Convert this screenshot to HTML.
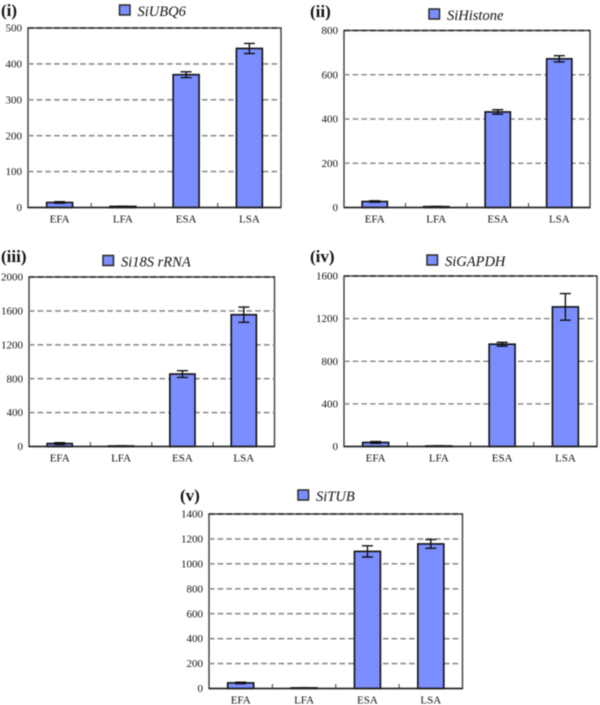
<!DOCTYPE html>
<html>
<head>
<meta charset="utf-8">
<title>Expression of reference genes</title>
<style>
html,body{margin:0;padding:0;background:#fff;width:600px;height:705px;overflow:hidden}
svg{display:block;filter:blur(0.4px)}
text{font-family:"Liberation Serif",serif;fill:#111}
</style>
</head>
<body>
<svg id="figure" width="600" height="705" viewBox="0 0 600 705" xmlns="http://www.w3.org/2000/svg"></svg>
<script>
const categories = ["EFA", "LFA", "ESA", "LSA"];

const ubq6Values = [14, 3, 370, 443];
const ubq6Errors = [2, 0.5, 8, 14];
const ubq6Ticks = [0, 100, 200, 300, 400, 500];

const histoneValues = [27, 4, 432, 672];
const histoneErrors = [3, 0.5, 10, 14];
const histoneTicks = [0, 200, 400, 600, 800];

const rrnaValues = [35, 6, 855, 1555];
const rrnaErrors = [10, 2, 40, 90];
const rrnaTicks = [0, 400, 800, 1200, 1600, 2000];

const gapdhValues = [38, 5, 960, 1310];
const gapdhErrors = [8, 1, 18, 125];
const gapdhTicks = [0, 400, 800, 1200, 1600];

const tubValues = [45, 5, 1100, 1160];
const tubErrors = [6, 1, 45, 35];
const tubTicks = [0, 200, 400, 600, 800, 1000, 1200, 1400];

const NS = "http://www.w3.org/2000/svg";
const figure = document.getElementById("figure");

function make(parent, tag, attrs, content) {
  const el = document.createElementNS(NS, tag);
  for (const k in attrs) el.setAttribute(k, attrs[k]);
  if (content !== undefined) el.textContent = content;
  parent.appendChild(el);
  return el;
}

function drawPanel(p) {
  const maxTick = Math.max.apply(null, p.ticks);
  const plotW = p.right - p.left;
  const yScale = function (v) { return p.bottom - (v / maxTick) * (p.bottom - p.top); };
  const step = plotW / p.values.length;
  const xScale = function (i) { return p.left + step * (i + 0.5); };
  const barW = step * 0.41;

  const g = make(figure, "g", {});
  
  

  const label = make(g, "text", { x: p.labelX, y: p.labelY, "font-size": 17, "font-weight": "bold" }, p.label);
  
  

  const swatch = make(g, "rect", { x: p.legendX, y: p.legendY, width: 10.5, height: 10, fill: "#7b8eff", stroke: "#2a2a2a", "stroke-width": 1.5 });
  
  

  const legendText = make(g, "text", { x: p.legendX + 18, y: p.legendY + 11, "font-size": 14.5, "font-style": "italic" }, p.title);
  
  

  const box = make(g, "rect", { x: p.left, y: p.top, width: plotW, height: p.bottom - p.top, fill: "#fff", stroke: "#3a3a3a", "stroke-width": 1.4 });
  
  

  p.ticks.forEach(function (t) {
    const y = yScale(t);
    if (t > 0) {
      const grid = make(g, "line", { x1: p.left, x2: p.right, y1: y, y2: y, stroke: t === maxTick ? "#222" : "#8c8c8c", "stroke-width": 1.6, "stroke-dasharray": "5.5 3.2" });
      
      
    }
    const tick = make(g, "text", { x: p.left - 6, y: y + 3.6, "font-size": 11, "text-anchor": "end" }, String(t));
    
    
  });

  categories.forEach(function (c, i) {
    const cx = xScale(i);
    const top = yScale(p.values[i]);
    const bar = make(g, "rect", { x: cx - barW / 2, y: top, width: barW, height: p.bottom - top, fill: "#7b8eff", stroke: "#111", "stroke-width": 1.6 });
    
    

    const hi = yScale(p.values[i] + p.errors[i]);
    const lo = yScale(p.values[i] - p.errors[i]);
    const capW = 5.5;
    const err = make(g, "path", {
      d: "M" + (cx - capW) + " " + hi + "H" + (cx + capW) + "M" + cx + " " + hi + "V" + lo + "M" + (cx - capW) + " " + lo + "H" + (cx + capW),
      fill: "none", stroke: "#111", "stroke-width": 1.4
    });
    
    

    const cat = make(g, "text", { x: cx, y: p.bottom + 15.2, "font-size": 11, "text-anchor": "middle" }, c);
    
    

    if (i > 0) {
      const bx = p.left + step * i;
      const mark = make(g, "line", { x1: bx, x2: bx, y1: p.bottom, y2: p.bottom - 4.5, stroke: "#3a3a3a", "stroke-width": 1 });
      
      
    }
  });

  const axis = make(g, "line", { x1: p.left, x2: p.right, y1: p.bottom, y2: p.bottom, stroke: "#222", "stroke-width": 1.6 });
  
  
}

drawPanel({ key: "ubq6", label: "(i)", title: "SiUBQ6", values: ubq6Values, errors: ubq6Errors, ticks: ubq6Ticks,
  left: 28, right: 281, top: 28, bottom: 207.5, labelX: 1, labelY: 16, legendX: 119.5, legendY: 5 });
drawPanel({ key: "histone", label: "(ii)", title: "SiHistone", values: histoneValues, errors: histoneErrors, ticks: histoneTicks,
  left: 344, right: 590, top: 30.5, bottom: 207.5, labelX: 310, labelY: 17, legendX: 429, legendY: 9 });
drawPanel({ key: "rrna", label: "(iii)", title: "Si18S rRNA", values: rrnaValues, errors: rrnaErrors, ticks: rrnaTicks,
  left: 29, right: 274.5, top: 277, bottom: 446.5, labelX: 1, labelY: 262, legendX: 103, legendY: 255.5 });
drawPanel({ key: "gapdh", label: "(iv)", title: "SiGAPDH", values: gapdhValues, errors: gapdhErrors, ticks: gapdhTicks,
  left: 344, right: 597, top: 276, bottom: 446.5, labelX: 310, labelY: 262, legendX: 427, legendY: 255 });
drawPanel({ key: "tub", label: "(v)", title: "SiTUB", values: tubValues, errors: tubErrors, ticks: tubTicks,
  left: 209, right: 462.5, top: 514, bottom: 688.5, labelX: 180, labelY: 501, legendX: 298, legendY: 490 });
</script>
</body>
</html>
